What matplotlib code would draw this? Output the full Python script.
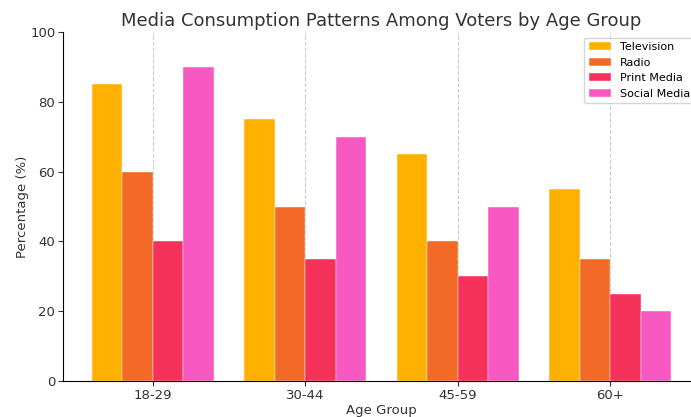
import numpy as np
import matplotlib.pyplot as plt

age_groups = ["18-29", "30-44", "45-59", "60+"]
television = [85, 75, 65, 55]
radio = [60, 50, 40, 35]
print_media = [40, 35, 30, 25]
social_media = [90, 70, 50, 20]

series_names = ["Television", "Radio", "Print Media", "Social Media"]
series_colors = ["#FFB000", "#F26A26", "#F5325A", "#F858C2"]

fig = plt.figure(figsize=(6.91, 4.17), dpi=100)
ax = fig.add_axes([63 / 691, 36 / 417, 637 / 691, 349 / 417])

x = np.arange(len(age_groups))
bar_width = 0.2
all_series = [television, radio, print_media, social_media]
for i, values in enumerate(all_series):
    offset = (i - 1.5) * bar_width
    ax.bar(x + offset, values, bar_width, label=series_names[i], color=series_colors[i],
           edgecolor="white", linewidth=0.3, zorder=2)

ax.set_xticks(x)
ax.set_xticklabels(age_groups)
ax.set_ylim(0, 100)
ax.xaxis.grid(True, linestyle="--", color="#cccccc", linewidth=0.8, zorder=0)
ax.set_axisbelow(True)
for side in ["top", "right"]:
    ax.spines[side].set_visible(False)

ax.tick_params(labelsize=9.5, colors="#333333", length=3.5, pad=2)
ax.set_xlabel("Age Group", fontsize=9.5, color="#333333", labelpad=2)
ax.set_ylabel("Percentage (%)", fontsize=9.5, color="#333333", labelpad=1)
ax.set_title("Media Consumption Patterns Among Voters by Age Group", fontsize=13, color="#333333", pad=4)
ax.legend(loc="upper right", fontsize=8)

fig.savefig("out.png", dpi=100)
